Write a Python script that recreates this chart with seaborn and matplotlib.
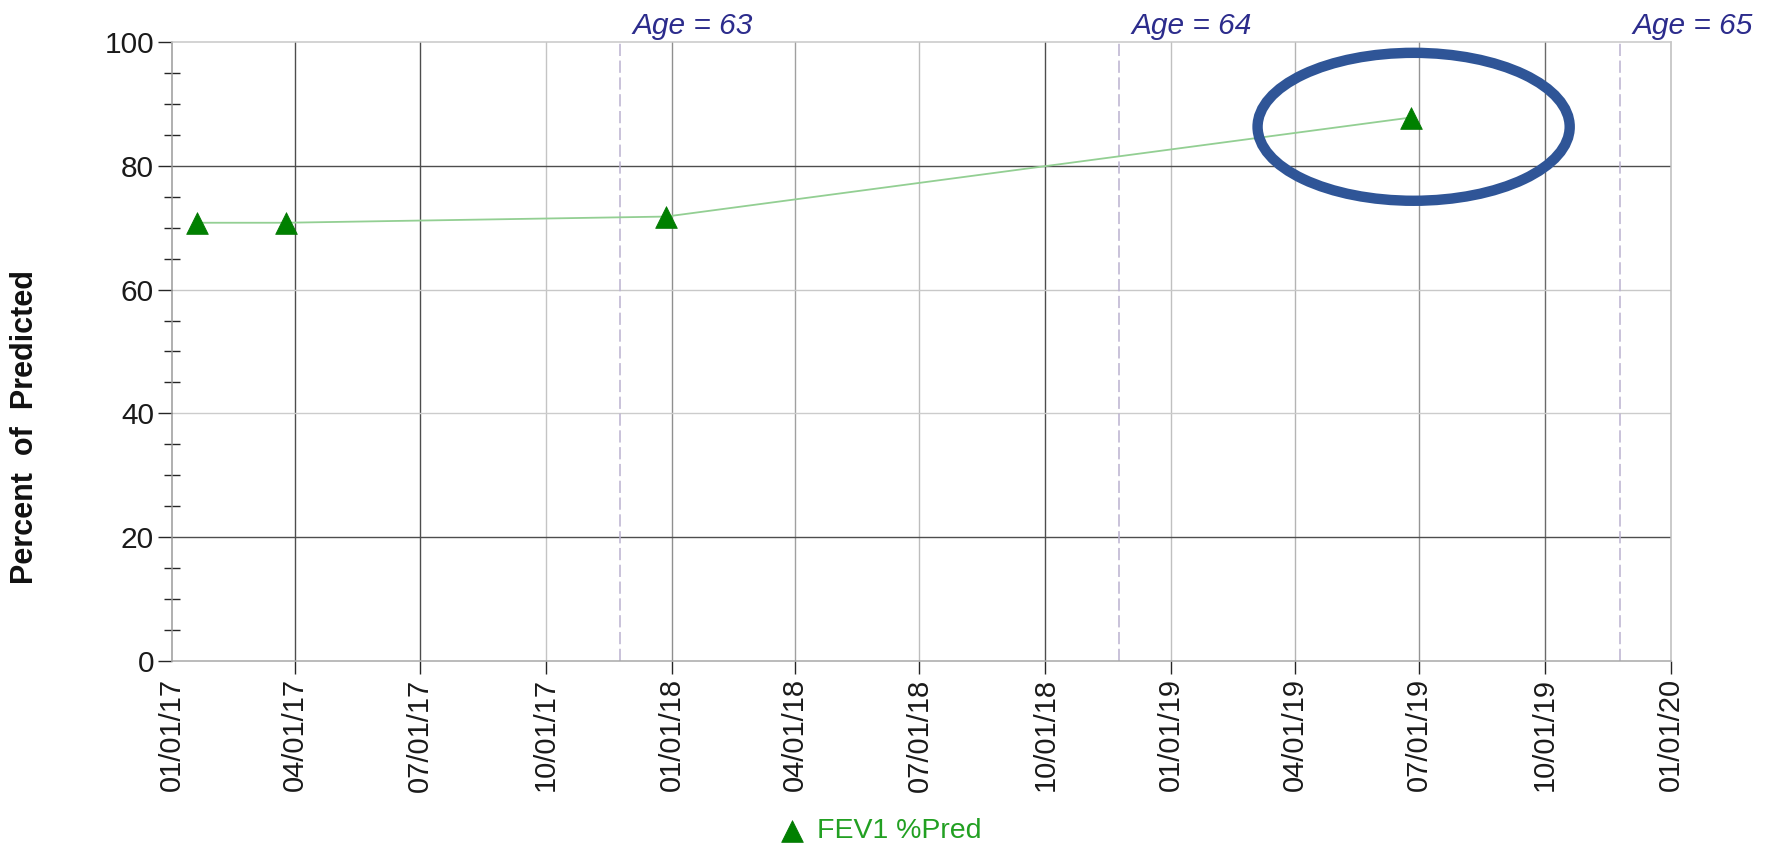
import numpy as np
import pandas as pd
import matplotlib
matplotlib.use("Agg")
import matplotlib.pyplot as plt
import matplotlib.dates as mdates
from matplotlib.patches import Ellipse
import seaborn as sns

# FEV1 percent-of-predicted measurements
visit_dates = ["2017-01-19", "2017-03-25", "2017-12-28", "2019-06-25"]
fev1_pct_pred = [70.8, 70.8, 71.8, 87.8]
series_label = "FEV1 %Pred"

# birthdays where the patient's age changes
age_labels = ["Age = 63", "Age = 64", "Age = 65"]
birthday_dates = ["2017-11-24", "2018-11-24", "2019-11-25"]

# axis ticks
quarter_ticks = pd.date_range("2017-01-01", "2020-01-01", freq="QS")
y_major = [0, 20, 40, 60, 80, 100]
y_minor = [5, 10, 15, 25, 30, 35, 45, 50, 55, 65, 70, 75, 85, 90, 95]

# line shades for the quarter grid (first/last coincide with the frame)
vgrid_colors = [None, "#4d4d4d", "#4d4d4d", "#c4c4c4", "#8f8f8f", "#a0a0a0",
                "#bdbdbd", "#4d4d4d", "#c0c0c0", "#b4b4b4", "#959595",
                "#6a6a6a", "#bcbcbc"]
hgrid_colors = ["#a8a8a8", "#4d4d4d", "#cccccc", "#c8c8c8", "#4d4d4d", "#c8c8c8"]
minor_colors = ["#c8c8c8", "#8a8a8a", "#666666", "#8a8a8a", "#999999",
                "#8a8a8a", "#c0c0c0", "#777777", "#999999", "#8a8a8a",
                "#666666", "#8a8a8a", "#8a8a8a", "#cccccc", "#8a8a8a"]

sns.set_theme(style="white")
plt.rcParams["font.family"] = ["Liberation Sans", "DejaVu Sans"]

df = pd.DataFrame({"date": pd.to_datetime(visit_dates), "pct": fev1_pct_pred})

W, H = 1777, 848
fig = plt.figure(figsize=(W / 100, H / 100), dpi=100)
fig.patch.set_facecolor("white")
px0, px1, py0, py1 = 172, 1671, 42, 661
ax = fig.add_axes([px0 / W, 1 - py1 / H, (px1 - px0) / W, (py1 - py0) / H])
ax.set_facecolor("white")

# grid
for d, c in zip(quarter_ticks, vgrid_colors):
    if c is not None and d not in (quarter_ticks[0], quarter_ticks[-1]):
        ax.axvline(d, color=c, lw=1.0, zorder=0.5)
for v, c in zip(y_major, hgrid_colors):
    if v not in (0, 100):
        ax.axhline(v, color=c, lw=1.0, zorder=0.5)

# birthday markers
for d in birthday_dates:
    ax.axvline(pd.Timestamp(d), color="#bab1cf", lw=1.1, dashes=(8, 3), zorder=1)

# data
sns.lineplot(data=df, x="date", y="pct", ax=ax, color="#93cf93",
             linewidth=1.3, legend=False, zorder=4)
sns.scatterplot(data=df, x="date", y="pct", ax=ax, marker="^", s=245,
                color="#008000", edgecolor="#007400", linewidth=0.5,
                label=series_label, zorder=5)

ax.set_xlim(quarter_ticks[0], quarter_ticks[-1])
ax.set_ylim(0, 100)
ax.set_xlabel("")

# x axis
ax.set_xticks(quarter_ticks)
ax.xaxis.set_major_formatter(mdates.DateFormatter("%m/%d/%y"))
ax.tick_params(axis="x", which="major", direction="out", length=9.5, width=1.0,
               pad=3, labelsize=21, labelrotation=90, labelcolor="#1a1a1a",
               bottom=True)
for tick, c in zip(ax.xaxis.get_major_ticks(), vgrid_colors):
    if c is None:
        tick.tick1line.set_visible(False)
    else:
        tick.tick1line.set_color(c)

# y axis
ax.set_yticks(y_major)
ax.set_yticks(y_minor, minor=True)
ax.tick_params(axis="y", which="major", direction="out", length=10, width=1.0,
               pad=3, labelsize=21.5, labelcolor="#1a1a1a", left=True)
ax.tick_params(axis="y", which="minor", direction="inout", length=12, width=1.0,
               left=True)
for tick, c in zip(ax.yaxis.get_major_ticks(), hgrid_colors):
    tick.tick1line.set_color(c)
for tick, c in zip(ax.yaxis.get_minor_ticks(), minor_colors):
    tick.tick1line.set_color(c)

ax.set_ylabel("Percent  of  Predicted", fontsize=22, fontweight="bold",
              color="#111111")
ax.yaxis.set_label_coords((25 - px0) / (px1 - px0), (py1 - 427) / (py1 - py0))
ax.yaxis.label.set_verticalalignment("center")

# frame
for side, c in {"left": "#9a9a9a", "bottom": "#a8a8a8",
                "top": "#c8c8c8", "right": "#bcbcbc"}.items():
    ax.spines[side].set_visible(True)
    ax.spines[side].set_color(c)
    ax.spines[side].set_linewidth(1.1)

# age annotations above the plot
for lab, d in zip(age_labels, birthday_dates):
    ax.annotate(lab, xy=(mdates.date2num(pd.Timestamp(d)), 1),
                xycoords=("data", "axes fraction"), xytext=(9, 5.5),
                textcoords="offset points", ha="left", va="baseline",
                fontsize=21.5, fontstyle="italic", color="#2c2c8c",
                annotation_clip=False)

# highlight around the latest measurement
ring = Ellipse((mdates.date2num(pd.Timestamp("2019-06-27")), 86.3),
               width=228, height=23.9, fill=False, lw=7.5,
               edgecolor="#2f5597", clip_on=False, zorder=10)
ax.add_patch(ring)

# legend below the chart
handles, labels = ax.get_legend_handles_labels()
if ax.get_legend() is not None:
    ax.get_legend().remove()
fig.legend(handles, labels, loc="center", bbox_to_anchor=(881 / W, 1 - 831 / H),
           frameon=False, fontsize=20.5, handletextpad=0.45, handlelength=0.8,
           labelcolor="#22a022", borderpad=0)

fig.savefig("out.png", dpi=100, facecolor="white")
